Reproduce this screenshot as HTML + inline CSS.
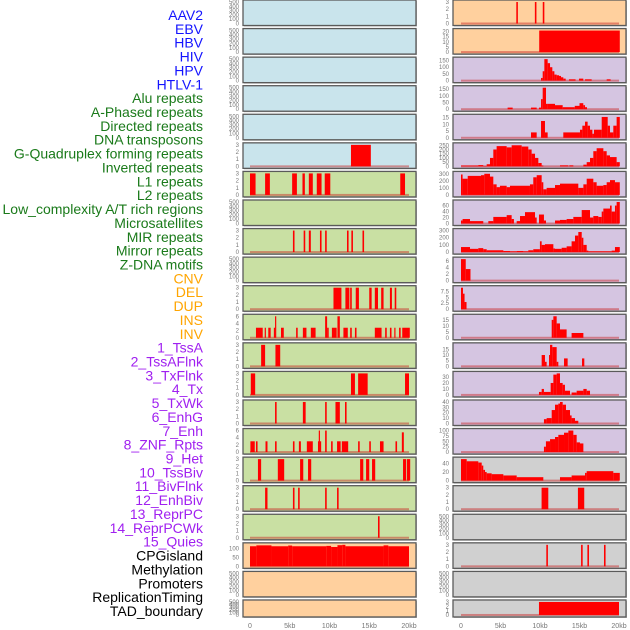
<!DOCTYPE html>
<html><head><meta charset="utf-8"><style>
html,body{margin:0;padding:0;background:#fff;}
svg{display:block;font-family:"Liberation Sans",sans-serif;}
</style></head><body>
<svg id="chart" width="630" height="630" viewBox="0 0 630 630" xmlns="http://www.w3.org/2000/svg"></svg>
<script>
const trackLabels = ["AAV2","EBV","HBV","HIV","HPV","HTLV-1","Alu repeats","A-Phased repeats","Directed repeats","DNA transposons","G-Quadruplex forming repeats","Inverted repeats","L1 repeats","L2 repeats","Low_complexity A/T rich regions","Microsatellites","MIR repeats","Mirror repeats","Z-DNA motifs","CNV","DEL","DUP","INS","INV","1_TssA","2_TssAFlnk","3_TxFlnk","4_Tx","5_TxWk","6_EnhG","7_Enh","8_ZNF_Rpts","9_Het","10_TssBiv","11_BivFlnk","12_EnhBiv","13_ReprPC","14_ReprPCWk","15_Quies","CPGisland","Methylation","Promoters","ReplicationTiming","TAD_boundary"];
const labelColors = ["#1414ff","#1a7a1a","#ffa500","#a020f0","#000"];
const labelGroupSizes = [6,13,5,15,5];
const xTickLabels = ["0","5kb","10kb","15kb","20kb"];
const xTickValues = [0,5,10,15,20];
const T3=[0,1,2,3], T500=[0,100,200,300,400,500];
// left column panels
const leftYMax = [500,500,500,500,500,3,3,500,3,500,3,6,3,3,3,6,3,3,3,120,500,500];
const leftTicks = [T500,T500,T500,T500,T500,T3,T3,T500,T3,T500,T3,[0,2,4,6],T3,T3,T3,[0,2,4,6],T3,T3,T3,[0,50,100],T500,T500];
const leftBars = [
 [],[],[],[],[],
 [[12.7,15.2,3]],
 [[0,0.7,3],[1.9,2.5,3],[5.3,5.9,3],[6.6,6.9,3],[7.4,7.9,3],[8.4,9.0,3],[9.4,10.1,3],[18.9,19.5,3]],
 [],
 [[5.4,5.6,3],[6.75,6.95,3],[7.4,7.65,3],[8.8,9.0,3],[9.45,9.65,3],[12.2,12.4,3],[12.75,12.95,3],[14.15,14.35,3]],
 [],
 [[10.5,11.5,3],[12,12.5,3],[12.6,12.8,3],[13.3,13.7,3],[15,15.3,3],[15.7,16.1,3],[16.5,16.8,3],[17.6,17.85,3],[18.2,18.4,3]],
 [[0.75,1.6,2.8],[1.85,2.0,2.8],[2.3,2.6,2.8],[3.0,3.15,2.8],[3.15,3.3,6],[3.9,4.25,2.8],[5.8,6.0,2.8],[6.65,7.1,2.8],[7.65,8.25,2.8],[9.45,9.7,6],[9.7,9.9,2.8],[10.3,10.9,2.8],[11.0,11.3,6],[11.75,12.3,2.8],[12.6,12.8,2.8],[13.2,13.4,2.8],[15.7,16.55,2.8],[17.0,17.2,2.8],[17.6,17.8,2.8],[18.15,18.3,2.8],[18.75,18.95,2.8],[19.15,20.1,2.8]],
 [[1.4,1.9,3],[3.2,3.8,3]],
 [[0.1,0.65,3],[12.7,13.2,3],[13.6,14.8,3],[19.5,20.0,3]],
 [[3.15,3.35,3],[6.65,7.0,3],[9.45,9.65,3],[10.75,11.3,3],[11.95,12.15,3]],
 [[0.05,0.6,3],[0.75,0.95,3],[1.95,2.2,3],[3.15,3.35,3],[5.4,5.6,3],[6.15,6.4,3],[7.15,7.9,3],[8.55,8.65,3],[8.65,8.8,6],[8.8,8.9,3],[9.45,9.65,6],[10.2,10.4,3],[10.95,11.4,3],[11.55,12.35,3],[13.6,13.8,3],[15.0,15.2,3],[16.35,16.8,3],[18.3,18.5,3],[19.1,19.35,5.5]],
 [[1.0,1.4,3],[3.5,4.3,3],[6.3,6.7,3],[7.3,7.7,3],[13.85,14.25,3],[14.6,15.0,3],[15.35,15.75,3],[19.25,19.65,3],[19.75,20.15,3]],
 [[1.9,2.2,3],[5.4,5.6,3],[6.05,6.25,3],[9.45,9.65,3],[10.95,11.15,3]],
 [[16.1,16.3,3]],
 [[0,0.8,112],[0.8,2.7,117],[2.7,4.8,112],[4.8,5.3,116],[5.3,9.6,112],[9.6,10.2,114],[10.2,11.0,108],[11.0,11.6,118],[11.6,12.0,121],[12.0,16.8,112],[16.8,17.4,117],[17.4,20.0,112]],
 [],[]
];
// right column panels
const rightYMax = [3,21,160,160,16,255,305,72,300,6.5,9,18,19,36,40,100,50,3,500,3,500,3];
const rightTicks = [T3,[0,5,10,15,20],[0,50,100,150],[0,50,100,150],[0,5,10,15],[0,50,100,150,200,250],[0,100,200,300],[0,20,40,60],[0,100,200,300],[0,2,4,6],[0,2.5,5,7.5],[0,5,10,15],[0,5,10,15],[0,10,20,30],[0,10,20,30,40],[0,25,50,75,100],[0,20,40],T3,T500,T3,T500,T3];
const rightBars = [
 [[7.0,7.2,3],[9.35,9.55,3],[10.35,10.55,3]],
 [[9.9,20.1,21]],
 [[10.13,10.34,20],[10.34,10.55,70],[10.55,10.97,160],[10.97,11.27,130],[11.27,11.56,100],[11.56,11.82,70],[11.82,12.11,45],[12.11,12.41,40],[12.41,12.66,35],[12.66,12.95,25],[12.95,13.25,15],[13.67,14.5,10],[14.94,15.48,15],[15.7,16.54,10],[18.44,18.94,10]],
 [[5.9,6.54,12],[8.86,9.58,12],[9.87,10.13,12],[10.13,10.34,75],[10.34,10.76,165],[10.76,11.0,40],[11.0,11.9,40],[11.9,12.87,30],[12.87,14.4,15],[14.4,15.0,25],[15.0,15.48,45],[15.48,15.7,30],[15.7,15.95,15]],
 [[8.86,9.58,4],[10.13,10.63,12.5],[10.63,10.97,4],[12.95,15.06,4],[15.06,15.36,6],[15.36,15.7,9],[15.7,16.03,12],[16.03,16.33,9],[16.33,16.63,6],[16.63,16.83,3],[16.83,17.81,6],[17.81,18.57,15.5],[18.57,18.86,9],[18.86,19.28,4],[19.28,19.7,9],[19.7,20.1,15.5]],
 [[0,2.19,10],[2.19,2.82,15],[2.82,3.25,5],[3.25,3.67,25],[3.67,4.09,100],[4.09,4.51,200],[4.51,5.78,240],[5.78,6.41,225],[6.41,7.68,250],[7.68,8.52,235],[8.52,8.94,200],[8.94,9.37,150],[9.37,9.79,100],[9.79,10.21,40],[10.21,10.42,10],[12.53,13.59,12],[13.71,14.22,12],[15.49,15.91,20],[15.91,16.33,50],[16.33,16.75,100],[16.75,17.17,180],[17.17,18.02,215],[18.02,18.44,180],[18.44,18.86,130],[18.86,19.7,110],[19.7,20.1,50]],
 [[0,0.2,290],[0.2,0.85,230],[0.85,2.53,270],[2.53,2.95,280],[2.95,3.67,300],[3.67,4.09,260],[4.09,4.51,150],[4.51,4.93,110],[4.93,5.78,130],[5.78,6.2,110],[6.2,8.73,130],[8.73,9.15,150],[9.15,9.58,250],[9.58,10.21,280],[10.21,10.42,180],[10.42,10.84,80],[10.84,11.9,100],[11.9,12.53,140],[12.53,14.85,160],[14.85,15.49,100],[15.49,15.91,150],[15.91,16.75,230],[16.75,17.17,180],[17.17,18.02,130],[18.02,18.44,140],[18.44,18.86,180],[18.86,19.49,210],[19.49,20.1,180]],
 [[0,0.2,10],[0.2,1.14,15],[1.14,2.82,8],[3.46,4.09,8],[4.09,5.78,22],[5.78,6.41,28],[6.41,6.7,15],[7.05,7.47,8],[7.47,8.1,25],[8.1,9.37,38],[9.37,9.58,20],[9.87,10.5,30],[10.5,10.76,10],[11.9,12.53,10],[12.53,13.37,12],[13.37,14.22,15],[14.22,15.28,22],[15.28,16.33,45],[16.33,16.75,20],[16.75,17.38,25],[17.38,17.81,22],[17.81,18.02,40],[18.02,18.86,50],[18.86,19.07,60],[19.07,19.49,40],[19.49,19.7,60],[19.7,20.1,72]],
 [[0,1.14,70],[1.14,2.19,45],[2.19,2.82,55],[2.82,3.25,40],[3.25,5.36,25],[5.36,6.2,15],[6.2,7.05,10],[7.05,7.89,15],[7.89,8.52,10],[8.52,9.15,25],[9.15,9.99,40],[9.99,10.21,150],[10.21,10.63,100],[10.63,11.69,110],[11.69,11.9,50],[11.9,12.74,45],[12.74,13.37,60],[13.37,14.0,80],[14.0,14.43,150],[14.43,14.85,230],[14.85,15.28,280],[15.28,15.49,200],[15.49,15.91,100],[15.91,16.12,20],[16.12,19.07,10],[19.07,19.49,20],[19.49,20.1,70]],
 [[0,0.6,6.5],[0.6,1.2,3.5]],
 [[0,0.25,9],[0.25,0.45,6.5],[0.45,0.7,3]],
 [[11.48,11.69,15],[11.69,12.11,18],[12.11,12.53,12],[12.53,13.37,7],[14.0,15.49,4]],
 [[10.21,10.63,10],[10.63,10.84,4],[11.14,11.27,10],[11.27,11.56,19],[11.56,12.11,17],[12.11,12.32,4],[13.04,13.5,7],[15.32,15.61,7]],
 [[9.87,10.21,5],[10.21,10.5,10],[10.5,11.35,5],[11.35,11.69,20],[11.69,12.11,34],[12.11,12.53,36],[12.53,12.87,20],[12.87,13.16,17],[13.16,13.8,7],[14.0,14.64,4],[14.64,15.49,7],[15.49,15.91,10],[15.91,16.33,7]],
 [[10.5,10.84,8],[10.84,11.48,10],[11.48,11.9,25],[11.9,12.32,35],[12.32,12.53,37],[12.53,12.87,40],[12.87,13.29,35],[13.29,13.8,25],[13.8,14.0,15],[14.0,14.43,10],[14.43,14.85,5]],
 [[10.5,10.75,25],[10.75,11.27,50],[11.27,11.9,60],[11.9,12.32,70],[12.32,13.04,80],[13.04,13.59,90],[13.59,14.22,100],[14.22,14.64,80],[14.64,15.06,45],[15.06,15.49,40]],
 [[0,0.72,50],[0.72,2.19,45],[2.19,2.62,42],[2.62,2.82,35],[2.82,3.04,25],[3.04,3.25,20],[3.25,3.88,17],[3.88,5.36,15],[5.36,7.05,12],[7.05,10.42,8],[12.53,14.0,8],[14.0,15.7,12],[15.7,15.91,18],[15.91,19.28,22],[19.28,20.1,18]],
 [[10.2,11.05,3],[14.8,15.6,3]],
 [[10.8,11.0,3],[15.2,15.4,3],[16.0,16.2,3],[18.1,18.3,3]],
 [],
 [[],[]].slice(0,0).concat([[9.87,20.0,3]]),
 [],
 []
];
const leftColors = [0,0,0,0,0,0,1,1,1,1,1,1,1,1,1,1,1,1,1,2,2,2];
const rightColors = [2,2,3,3,3,3,3,3,3,3,3,3,3,3,3,3,4,4,4,4,4,4];
// fix ordering of right rows 19-21
rightBars[19] = [[10.8,11.0,3],[15.2,15.4,3],[16.0,16.2,3],[18.1,18.3,3]];
rightBars[18] = [];
rightBars[21] = [[9.87,20.0,3]];
rightBars[20] = [];
rightBars[17] = [[10.2,11.05,3],[14.8,15.6,3]];
</script>
<script>
const NS="http://www.w3.org/2000/svg";
const svg=document.getElementById('chart');
const bgPalette=["#c9e4ec","#c9e0a3","#ffd09e","#d5c5e1","#d0d0d0"];
function mk(tag,attrs,parent){const e=document.createElementNS(NS,tag);for(const k in attrs)e.setAttribute(k,attrs[k]);(parent||svg).appendChild(e);return e;}
// labels
let idx=0;
labelGroupSizes.forEach((n,g)=>{for(let i=0;i<n;i++){
 const t=mk('text',{x:203,y:15+idx*13.86,'text-anchor':'end','dominant-baseline':'central','font-size':'14',fill:labelColors[g]});
 t.textContent=trackLabels[idx];
 
 
 idx++;}});
function rowTop(i){return i*28.57;}
function rowH(i){return i===21?17:25.5;}
function drawColumn(px0,px1,dx0,dx1,yMaxArr,ticksArr,barsArr,colorArr,side){
 const xs=kb=>dx0+(dx1-dx0)*kb/20;
 for(let i=0;i<22;i++){
  const top=rowTop(i),h=rowH(i);
  const g=mk('g',{});
  
  
  mk('rect',{x:px0+1,y:top+1,width:px1-px0,height:h,fill:'#bbb'},g);
  mk('rect',{x:px0,y:top,width:px1-px0,height:h,fill:bgPalette[colorArr[i]],stroke:'#5a5a5a','stroke-width':1.3},g);
  const y0=top+h-2,yt=top+2,ym=yMaxArr[i];
  const ys=v=>y0-(y0-yt)*Math.min(v,ym)/ym;
  const bars=barsArr[i];
  if(bars.length){mk('rect',{x:xs(0),y:y0-1,width:xs(20)-xs(0),height:2,fill:'rgba(200,30,30,0.45)'},g);}
  bars.forEach(b=>{
   const r=mk('rect',{x:xs(b[0]),y:ys(b[2]),width:Math.max(1.2,xs(b[1])-xs(b[0])),height:y0-ys(b[2]),fill:'#ff0000'},g);
   
   
  });
  ticksArr[i].forEach(v=>{
   const t=mk('text',{x:px0-4,y:ys(v)+2,'text-anchor':'end','font-size':'6',fill:'#777'},g);
   t.textContent=String(v);
   
   
  });
 }
 xTickValues.forEach((v,k)=>{
  const t=mk('text',{x:xs(v),y:628,'text-anchor':'middle','font-size':'7',fill:'#777'});
  t.textContent=xTickLabels[k];
  
  
 });
}
drawColumn(243,416,250,409,leftYMax,leftTicks,leftBars,leftColors,'left');
drawColumn(453,626,461,619,rightYMax,rightTicks,rightBars,rightColors,'right');
</script>
</body></html>
